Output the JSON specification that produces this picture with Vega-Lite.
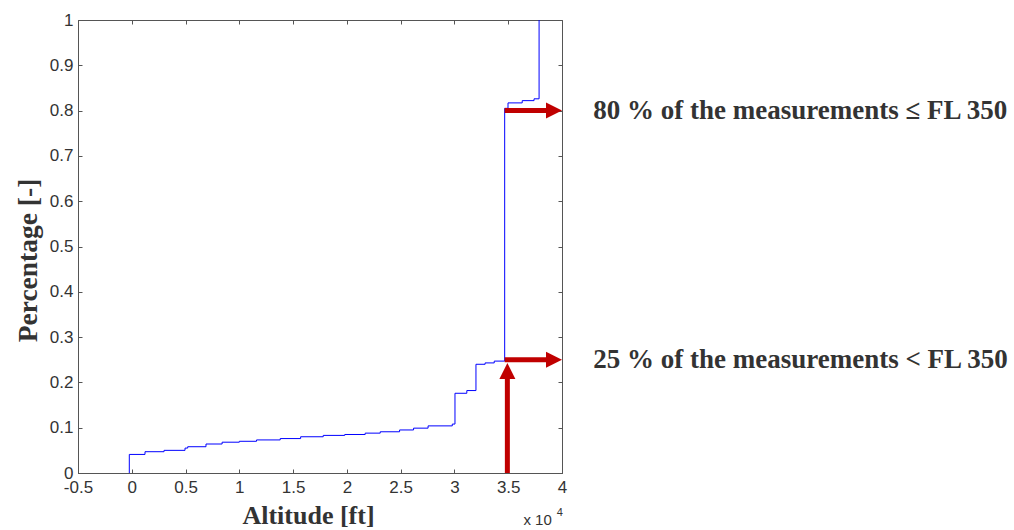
{
  "$schema": "https://vega.github.io/schema/vega-lite/v6.json",
  "width": 484,
  "height": 453,
  "autosize": {"type": "none"},
  "padding": {"left": 78, "top": 20, "right": 452, "bottom": 57},
  "background": "white",
  "config": {
    "view": {"stroke": "#555555", "strokeWidth": 1},
    "axis": {
      "grid": false,
      "domainColor": "#555555",
      "tickColor": "#555555",
      "labelFont": "Liberation Sans",
      "labelFontSize": 17,
      "labelColor": "#333333",
      "titleFont": "Liberation Serif",
      "titleFontSize": 26,
      "titleFontWeight": "bold",
      "titleColor": "#333333"
    }
  },
  "datasets": {
    "cdf": [
      {"alt": -230, "p": 0},
      {"alt": -230, "p": 0.041},
      {"alt": 1230, "p": 0.047},
      {"alt": 3000, "p": 0.05},
      {"alt": 4950, "p": 0.055},
      {"alt": 5200, "p": 0.058},
      {"alt": 6900, "p": 0.064},
      {"alt": 8400, "p": 0.068},
      {"alt": 10000, "p": 0.07},
      {"alt": 11600, "p": 0.073},
      {"alt": 13800, "p": 0.076},
      {"alt": 15700, "p": 0.08},
      {"alt": 17800, "p": 0.083},
      {"alt": 19800, "p": 0.085},
      {"alt": 21700, "p": 0.088},
      {"alt": 23100, "p": 0.091},
      {"alt": 24900, "p": 0.095},
      {"alt": 26200, "p": 0.099},
      {"alt": 27550, "p": 0.104},
      {"alt": 29800, "p": 0.108},
      {"alt": 30050, "p": 0.176},
      {"alt": 31150, "p": 0.182},
      {"alt": 32000, "p": 0.24},
      {"alt": 32850, "p": 0.243},
      {"alt": 33700, "p": 0.247},
      {"alt": 34670, "p": 0.805},
      {"alt": 34980, "p": 0.817},
      {"alt": 36300, "p": 0.822},
      {"alt": 37400, "p": 0.826},
      {"alt": 37870, "p": 1.0}
    ],
    "shafts": [
      {"alt": 34670, "alt2": 38700, "p": 0.8, "p2": 0.8},
      {"alt": 34670, "alt2": 38700, "p": 0.25, "p2": 0.25},
      {"alt": 34920, "alt2": 34920, "p": 0, "p2": 0.22}
    ],
    "rightHeads": [
      {"alt": 40000, "p": 0.8},
      {"alt": 40000, "p": 0.25}
    ],
    "upHeads": [
      {"alt": 34920, "p": 0.243}
    ],
    "notes": [
      {"alt": 42900, "p": 0.8, "label": "80 % of the measurements ≤ FL 350"},
      {"alt": 42900, "p": 0.25, "label": "25 % of the measurements < FL 350"}
    ],
    "expBase": [{"alt": 36414, "p": -0.1148, "label": "x 10"}],
    "expSup": [{"alt": 39512, "p": -0.0879, "label": "4"}]
  },
  "layer": [
    {
      "data": {"name": "cdf"},
      "mark": {"type": "line", "interpolate": "step-after", "color": "#0000ff", "strokeWidth": 1},
      "encoding": {
        "x": {
          "field": "alt", "type": "quantitative",
          "scale": {"domain": [-5000, 40000], "nice": false, "zero": false},
          "axis": {
            "orient": "bottom",
            "title": "Altitude [ft]",
            "values": [-5000, 0, 5000, 10000, 15000, 20000, 25000, 30000, 35000, 40000],
            "labelExpr": "toString(datum.value / 10000)",
            "tickSize": -4,
            "labelPadding": 10,
            "titlePadding": 7,
            "titleX": 230,
            "labelFlush": false,
            "labelOverlap": false
          }
        },
        "y": {
          "field": "p", "type": "quantitative",
          "scale": {"domain": [0, 1], "nice": false},
          "axis": {
            "orient": "left",
            "title": "Percentage [-]",
            "titleFontSize": 27.5,
            "values": [0, 0.1, 0.2, 0.3, 0.4, 0.5, 0.6, 0.7, 0.8, 0.9, 1],
            "format": ".1~f",
            "tickSize": -4,
            "labelPadding": 9,
            "titlePadding": 7,
            "titleY": 240,
            "labelFlush": false,
            "labelOverlap": false
          }
        }
      }
    },
    {
      "data": {"name": "cdf"},
      "mark": {"type": "line", "opacity": 0},
      "encoding": {
        "x": {
          "field": "alt", "type": "quantitative",
          "axis": {
            "orient": "top", "title": null, "labels": false, "domain": false,
            "values": [-5000, 0, 5000, 10000, 15000, 20000, 25000, 30000, 35000, 40000],
            "tickSize": -4
          }
        },
        "y": {
          "field": "p", "type": "quantitative",
          "axis": {
            "orient": "right", "title": null, "labels": false, "domain": false,
            "values": [0, 0.1, 0.2, 0.3, 0.4, 0.5, 0.6, 0.7, 0.8, 0.9, 1],
            "tickSize": -4
          }
        }
      }
    },
    {
      "data": {"name": "shafts"},
      "mark": {"type": "rule", "color": "#c00000", "strokeWidth": 5, "strokeCap": "butt"},
      "encoding": {
        "x": {"field": "alt", "type": "quantitative", "axis": null},
        "x2": {"field": "alt2"},
        "y": {"field": "p", "type": "quantitative", "axis": null},
        "y2": {"field": "p2"}
      }
    },
    {
      "data": {"name": "rightHeads"},
      "mark": {"type": "point", "filled": true, "color": "#c00000", "opacity": 1, "size": 256, "shape": "M0,0L-2,-1L-2,1Z", "strokeWidth": 0},
      "encoding": {
        "x": {"field": "alt", "type": "quantitative", "axis": null},
        "y": {"field": "p", "type": "quantitative", "axis": null}
      }
    },
    {
      "data": {"name": "upHeads"},
      "mark": {"type": "point", "filled": true, "color": "#c00000", "opacity": 1, "size": 256, "shape": "M0,0L-1,2L1,2Z", "strokeWidth": 0},
      "encoding": {
        "x": {"field": "alt", "type": "quantitative", "axis": null},
        "y": {"field": "p", "type": "quantitative", "axis": null}
      }
    },
    {
      "data": {"name": "notes"},
      "mark": {"type": "text", "align": "left", "baseline": "middle", "font": "Liberation Serif", "fontWeight": "bold", "fontSize": 27, "color": "#333333"},
      "encoding": {
        "x": {"field": "alt", "type": "quantitative", "axis": null},
        "y": {"field": "p", "type": "quantitative", "axis": null},
        "text": {"field": "label"}
      }
    },
    {
      "data": {"name": "expBase"},
      "mark": {"type": "text", "align": "left", "baseline": "alphabetic", "font": "Liberation Sans", "fontSize": 15, "color": "#333333"},
      "encoding": {
        "x": {"field": "alt", "type": "quantitative", "axis": null},
        "y": {"field": "p", "type": "quantitative", "axis": null},
        "text": {"field": "label"}
      }
    },
    {
      "data": {"name": "expSup"},
      "mark": {"type": "text", "align": "left", "baseline": "middle", "font": "Liberation Sans", "fontSize": 11, "color": "#333333"},
      "encoding": {
        "x": {"field": "alt", "type": "quantitative", "axis": null},
        "y": {"field": "p", "type": "quantitative", "axis": null},
        "text": {"field": "label"}
      }
    }
  ],
  "resolve": {"axis": {"x": "independent", "y": "independent"}}
}
